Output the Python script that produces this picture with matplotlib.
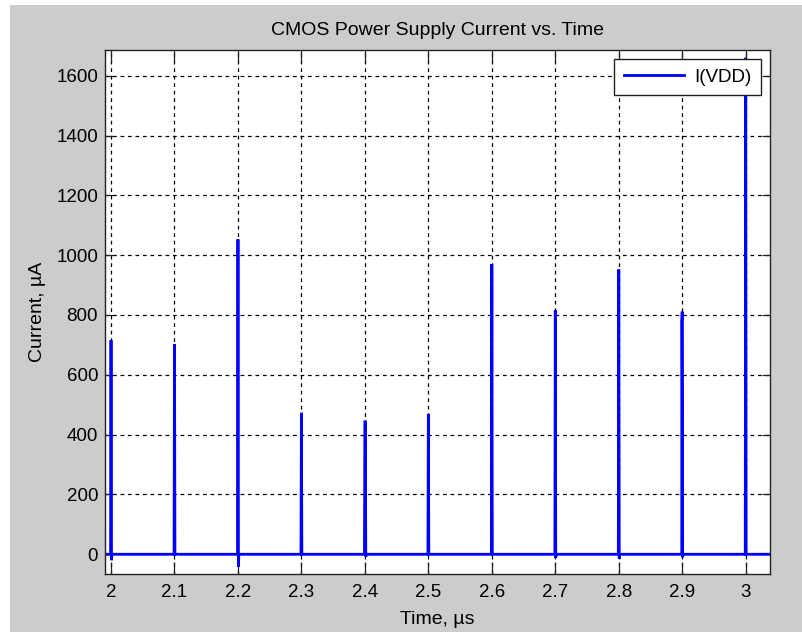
#!/usr/bin/python3

import numpy as np
import matplotlib
matplotlib.use('Agg')
import matplotlib.pyplot as plt
from matplotlib.patches import Rectangle

plt.rcParams['font.family'] = ['Liberation Sans', 'DejaVu Sans']
plt.rcParams['font.size'] = 13.5

# spike data (time in us, current in uA)
spike_times = [2.0, 2.1, 2.2, 2.3, 2.4, 2.5, 2.6, 2.7, 2.8, 2.9, 3.0]
spike_peaks = [716, 703, 1053, 473, 443, 468, 970, 816, 952, 811, 1660]
spike_shoulders = [0, 0, 0, 0, 409, 0, 0, 0, 0, 777, 0]
spike_dips = [-20, 0, -42, 0, -8, 0, 0, -12, -15, -10, 0]
t_start, t_end = 1.9905, 3.0383

yticks = [0, 200, 400, 600, 800, 1000, 1200, 1400, 1600]
xticks = [2.0, 2.1, 2.2, 2.3, 2.4, 2.5, 2.6, 2.7, 2.8, 2.9, 3.0]
xticklabels = ['2', '2.1', '2.2', '2.3', '2.4', '2.5', '2.6', '2.7', '2.8', '2.9', '3']

# build waveform from the spike list
w = 0.0007
t = [t_start]
cur = [0.0]
for ts, pk, sh, dp in zip(spike_times, spike_peaks, spike_shoulders, spike_dips):
    if sh and ts > 2.85:
        t += [ts - 2 * w, ts - w, ts - w, ts, ts + w, ts + 2 * w]
        cur += [0, 0, sh, pk, dp, 0]
    elif sh:
        t += [ts - w, ts, ts + w, ts + w, ts + 2 * w, ts + 3 * w]
        cur += [0, pk, pk, sh, dp, 0]
    else:
        t += [ts - w, ts, ts + w, ts + 2 * w]
        cur += [0, pk, dp, 0]
t.append(t_end)
cur.append(0.0)

W, H = 803, 632
fig = plt.figure(figsize=(W / 100, H / 100), dpi=100)
fig.patch.set_facecolor('white')
fig.patches.append(Rectangle((10 / W, 0), 1 - 10 / W, 1 - 5 / H,
                             transform=fig.transFigure, facecolor='#cccccc',
                             edgecolor='none', zorder=-10))

ax = fig.add_axes([105 / W, (H - 574) / H, 665 / W, 524 / H])
ax.set_facecolor('white')
ax.plot(t, cur, color='#0000ff', lw=2.0, label='I(VDD)', solid_joinstyle='miter')

ax.set_xlim(t_start, t_end)
ax.set_ylim(-66, 1686)
ax.set_xticks(xticks)
ax.set_xticklabels(xticklabels)
ax.set_yticks(yticks)

ax.grid(True, color='black', linestyle=(0, (3, 3)), linewidth=0.9)
ax.tick_params(axis='both', direction='in', top=True, right=True,
               color='#222222', width=0.9, labelsize=13.5)
ax.tick_params(axis='x', length=8.5, pad=7)
ax.tick_params(axis='y', length=5.5, pad=5)
for s in ax.spines.values():
    s.set_color('#222222')
    s.set_linewidth(1.0)

ax.set_title('CMOS Power Supply Current vs. Time', fontsize=14, pad=11)
ax.set_xlabel('Time, \u00b5s', fontsize=14, labelpad=7.5)
ax.set_ylabel('Current, \u00b5A', fontsize=14, labelpad=7)

leg = ax.legend(loc='upper right', fontsize=13.5, handlelength=3.2,
                fancybox=False, framealpha=1, edgecolor='#222222',
                borderaxespad=0.5, borderpad=0.5, handletextpad=0.55)
leg.get_frame().set_linewidth(1.0)

fig.savefig('out.png', dpi=100, facecolor=fig.get_facecolor())
